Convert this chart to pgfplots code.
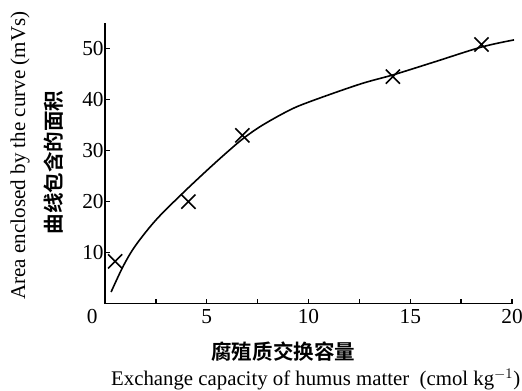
\documentclass[border=0pt]{standalone}
\usepackage{pgfplots}
\pgfplotsset{compat=1.18}
\usepackage{fontspec}
\setmainfont{Liberation Serif}
\newfontfamily\cjk{Noto Sans CJK SC}[BoldFont={* Bold}]

\begin{document}
\begin{tikzpicture}
\useasboundingbox (-78.75pt,-64.7pt) rectangle (312.75pt,227.8pt);
\begin{axis}[
  at={(0,0)}, anchor=south west,
  scale only axis,
  width=305.25pt, height=210.5pt,
  xmin=0, xmax=20, ymin=0, ymax=55,
  axis x line=bottom, axis y line=left,
  axis line style={line width=1.1pt, -},
  xtick={0,5,10,15,20},
  xticklabels={\makebox[0pt]{0\hspace{19pt}},5,10,15,20},
  minor xtick={2.5,7.5,12.5,17.5},
  ytick={10,20,30,40,50},
  tick align=inside,
  major tick length=3.5pt, minor tick length=3.5pt,
  tick style={line width=1pt, black},
  ticklabel style={font=\fontsize{16}{18}\selectfont},
  /pgf/number format/assume math mode=true,
  xticklabel style={yshift=-1pt},
  yticklabel style={xshift=2.5pt},
  clip=false,
]
% smooth fitted curve
\addplot[black, line width=1.2pt, smooth, tension=0.55] coordinates {
  (0.3,2.3) (0.9,7.4) (1.5,11.4) (2.5,16.4) (3.75,21.4) (5.0,26.1)
  (6.0,29.7) (6.8,32.4) (7.7,34.9) (9.0,37.8) (10.0,39.5) (12.5,43.0)
  (14.2,44.9) (16.2,47.4) (18.5,50.3) (20.1,51.7)
};
% measured values
\addplot[only marks, mark=x, mark size=7.5pt, mark options={line width=1.2pt, black}] coordinates {
  (0.5,8.3) (4.1,20.0) (6.75,33.0) (14.15,44.5) (18.5,50.8)
};
\end{axis}
\node[rotate=90, font=\fontsize{15.8}{18}\selectfont] at (-63.75pt,111.2pt) {Area enclosed by the curve (mVs)};
\node[rotate=90, font=\cjk\bfseries\fontsize{15.4}{17}\selectfont] at (-38.25pt,105.9pt) {曲线包含的面积};
\node[font=\cjk\bfseries\fontsize{15.4}{17}\selectfont] at (133.7pt,-36pt) {腐殖质交换容量};
\node[anchor=base, font=\fontsize{15.6}{18}\selectfont] at (158.1pt,-61.5pt) {Exchange capacity of humus matter\ \ (cmol kg$^{-1}$)};
\end{tikzpicture}
\end{document}
